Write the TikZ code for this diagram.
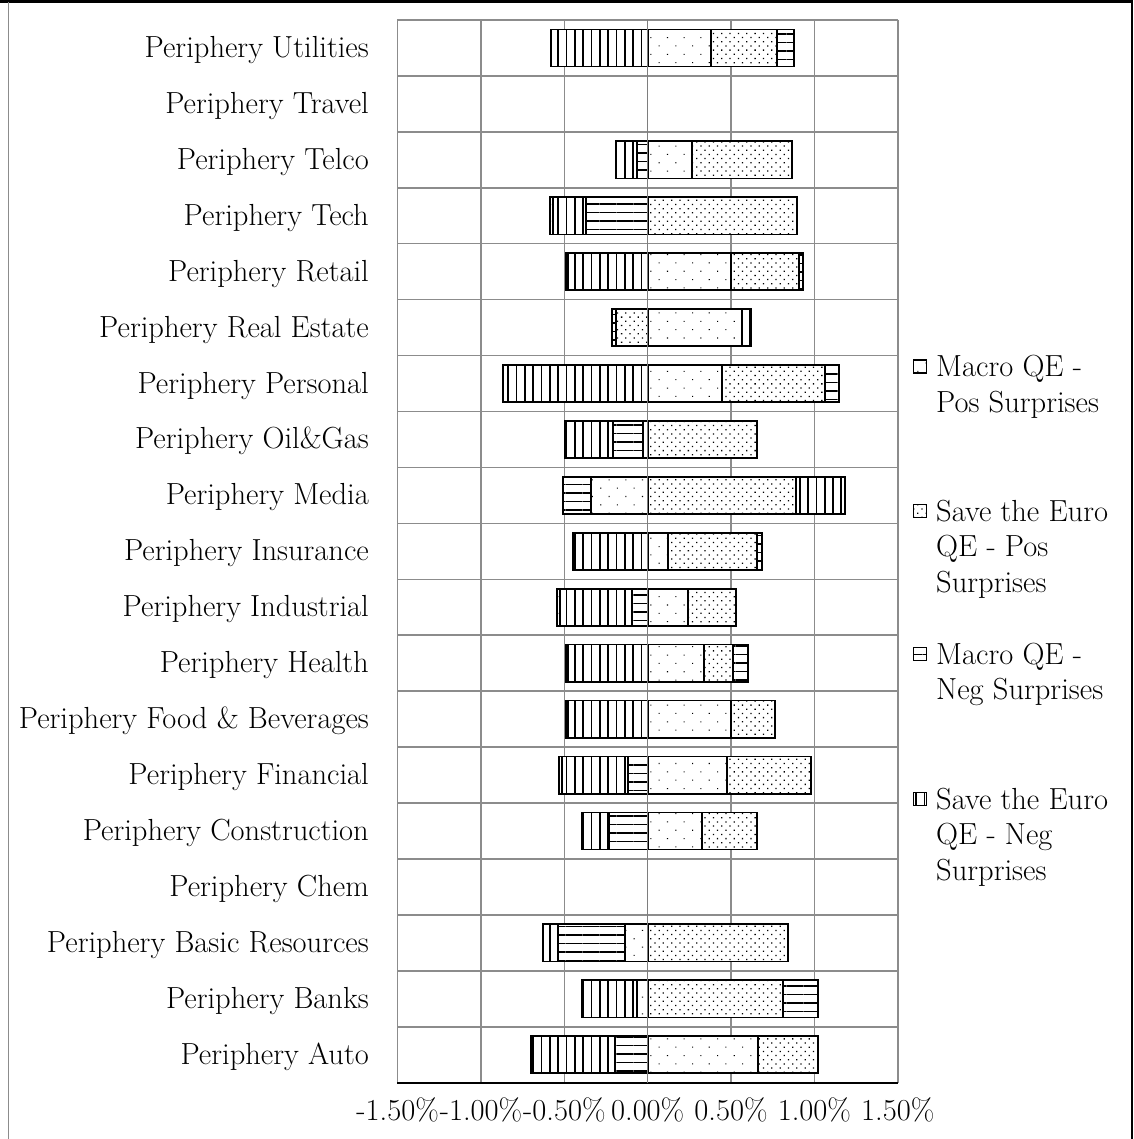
\documentclass[tikz,border=0pt]{standalone}
\usetikzlibrary{patterns.meta}
\definecolor{gridgray}{RGB}{140,140,140}
\tikzset{
  barseg/.style={draw=black, line width=1.7pt, preaction={fill=white}},
  mpos/.style={pattern={Dots[distance=11.8pt, angle=45, radius=0.75pt]}},
  spos/.style={pattern={Dots[distance=5.9pt, angle=45, radius=0.9pt]}},
  mneg/.style={pattern={Lines[angle=0, distance=8.5pt, line width=1.8pt]}},
  sneg/.style={pattern={Lines[angle=90, distance=8.33pt, line width=1.7pt]}},
  gridline/.style={draw=gridgray, line width=1.5pt},
  catlabel/.style={anchor=base east, inner sep=0pt},
  ticklabel/.style={anchor=base, inner sep=0pt},
  legtext/.style={anchor=base west, inner sep=0pt},
  legmark/.style={draw=black, line width=1.3pt, minimum size=13pt, inner sep=0pt, preaction={fill=white}}
}
\newcommand\seg[4]{\path[barseg,#4] (#2,{20+55.93*(#1-0.5)-18.6}) rectangle (#3,{20+55.93*(#1-0.5)+18.6});}
\begin{document}
\begin{tikzpicture}[x=1pt,y=-1pt,font=\fontsize{30.5}{36}\selectfont]
\useasboundingbox (0,0) rectangle (1133,1139);
% outer frame
\draw[black, line width=2.5pt] (0,1.3) -- (1133,1.3);
\draw[gridgray, line width=1.5pt] (8.3,2.5) -- (8.3,1139);
\draw[black, line width=1.8pt] (1132,1.3) -- (1132,1139);
% grid
\foreach \k in {0,...,6} {
  \draw[gridline] ({647.7+83.35*(\k-3)},20) -- ({647.7+83.35*(\k-3)},1082.7);
}
\foreach \j in {0,...,18} {
  \draw[gridline] (397.3,{20+55.93*\j}) -- (897.7,{20+55.93*\j});
}
% bars
% 1 Utilities
\seg{1}{551.3}{647.7}{sneg}\seg{1}{647.7}{710.7}{mpos}\seg{1}{710.7}{777.3}{spos}\seg{1}{777.3}{794}{mneg}
% 3 Telco
\seg{3}{615.7}{637.3}{sneg}\seg{3}{637.3}{647.7}{mneg}\seg{3}{647.7}{692.3}{mpos}\seg{3}{692.3}{792.3}{spos}
% 4 Tech
\seg{4}{550.3}{552.8}{mpos}\seg{4}{552.8}{585.7}{sneg}\seg{4}{585.7}{647.7}{mneg}\seg{4}{647.7}{797.3}{spos}
% 5 Retail
\seg{5}{565.7}{568.3}{mpos}\seg{5}{568.3}{647.7}{sneg}\seg{5}{647.7}{730.7}{mpos}\seg{5}{730.7}{799}{spos}\seg{5}{799}{802.7}{mneg}
% 6 Real Estate
\seg{6}{612.3}{615.7}{mneg}\seg{6}{615.7}{647.7}{spos}\seg{6}{647.7}{741.7}{mpos}\seg{6}{741.7}{750.7}{sneg}
% 7 Personal
\seg{7}{503.3}{647.7}{sneg}\seg{7}{647.7}{722.3}{mpos}\seg{7}{722.3}{825}{spos}\seg{7}{825}{839}{mneg}
% 8 Oil&Gas
\seg{8}{565}{613.3}{sneg}\seg{8}{613.3}{643.3}{mneg}\seg{8}{643.3}{647.7}{mpos}\seg{8}{647.7}{756.7}{spos}
% 9 Media
\seg{9}{562.7}{590.7}{mneg}\seg{9}{590.7}{647.7}{mpos}\seg{9}{647.7}{796}{spos}\seg{9}{796}{845}{sneg}
% 10 Insurance
\seg{10}{573.3}{647.7}{sneg}\seg{10}{647.7}{668.3}{mpos}\seg{10}{668.3}{756.7}{spos}\seg{10}{756.7}{761.7}{mneg}
% 11 Industrial
\seg{11}{557.3}{560.3}{mpos}\seg{11}{560.3}{632.3}{sneg}\seg{11}{632.3}{647.7}{mneg}\seg{11}{647.7}{687.7}{mpos}\seg{11}{687.7}{735.7}{spos}
% 12 Health
\seg{12}{565.7}{568.3}{mpos}\seg{12}{568.3}{647.7}{sneg}\seg{12}{647.7}{704.3}{mpos}\seg{12}{704.3}{733.3}{spos}\seg{12}{733.3}{747.7}{mneg}
% 13 Food & Beverages
\seg{13}{565.7}{568.3}{mpos}\seg{13}{568.3}{647.7}{sneg}\seg{13}{647.7}{730.7}{mpos}\seg{13}{730.7}{775}{spos}
% 14 Financial
\seg{14}{559}{561.8}{mpos}\seg{14}{561.8}{627.7}{sneg}\seg{14}{627.7}{647.7}{mneg}\seg{14}{647.7}{727.3}{mpos}\seg{14}{727.3}{810.7}{spos}
% 15 Construction
\seg{15}{582.3}{609.3}{sneg}\seg{15}{609.3}{647.7}{mneg}\seg{15}{647.7}{702.3}{mpos}\seg{15}{702.3}{756.7}{spos}
% 17 Basic Resources
\seg{17}{543.3}{557.7}{sneg}\seg{17}{557.7}{625}{mneg}\seg{17}{625}{647.7}{mpos}\seg{17}{647.7}{788.3}{spos}
% 18 Banks
\seg{18}{581.7}{636.7}{sneg}\seg{18}{636.7}{647.7}{mpos}\seg{18}{647.7}{782.7}{spos}\seg{18}{782.7}{818.3}{mneg}
% 19 Auto
\seg{19}{531}{615}{sneg}\seg{19}{615}{647.7}{mneg}\seg{19}{647.7}{758.3}{mpos}\seg{19}{758.3}{817.7}{spos}
% axes
\draw[black, line width=2pt] (397.3,1082.7) -- (897.7,1082.7);
\draw[gridgray!90!black, line width=1.5pt] (647.7,20) -- (647.7,1082.7);
% category labels
\foreach \lab [count=\i] in {Utilities, Travel, Telco, Tech, Retail, Real Estate, Personal, Oil\&Gas, Media, Insurance, Industrial, Health, Food \& Beverages, Financial, Construction, Chem, Basic Resources, Banks, Auto} {
  \node[catlabel] (cat\i) at (369,{20+55.93*(\i-0.5)+9.5}) {Periphery \lab};
}
% tick labels
\foreach \t [count=\k] in {-1.50\%,-1.00\%,-0.50\%,0.00\%,0.50\%,1.00\%,1.50\%} {
  \node[ticklabel] (tick\k) at ({647.7+83.35*(\k-4)},1120) {\t};
}
% legend
\node[legmark, mpos] (mk1) at (920,366.5) {};
\node[legtext] (leg1a) at (936,376.5) {Macro QE -};
\node[legtext] (leg1b) at (936,412) {Pos Surprises};
\node[legmark, spos] (mk2) at (920,511) {};
\node[legtext] (leg2a) at (936,521) {Save the Euro};
\node[legtext] (leg2b) at (936,556.5) {QE - Pos};
\node[legtext] (leg2c) at (936,592) {Surprises};
\node[legmark, mneg] (mk3) at (920,654) {};
\node[legtext] (leg3a) at (936,664) {Macro QE -};
\node[legtext] (leg3b) at (936,699.5) {Neg Surprises};
\node[legmark, sneg] (mk4) at (920,799) {};
\node[legtext] (leg4a) at (936,809) {Save the Euro};
\node[legtext] (leg4b) at (936,844.5) {QE - Neg};
\node[legtext] (leg4c) at (936,880) {Surprises};
\end{tikzpicture}
\end{document}
